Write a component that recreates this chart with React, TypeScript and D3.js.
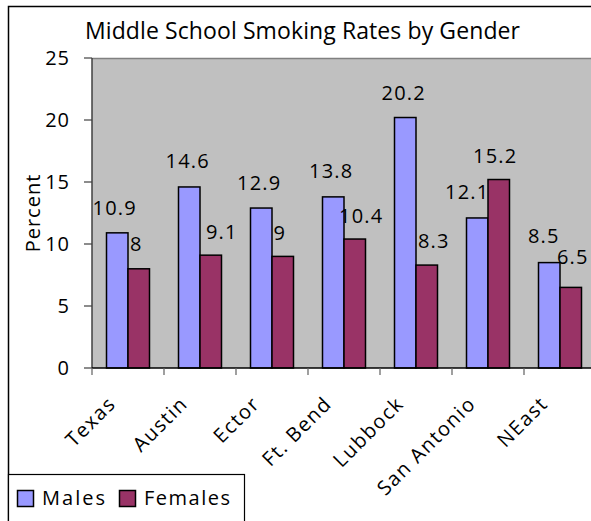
import React from "react";
import * as d3 from "d3";

const categories = ["Texas", "Austin", "Ector", "Ft. Bend", "Lubbock", "San Antonio", "NEast"];
const males = [10.9, 14.6, 12.9, 13.8, 20.2, 12.1, 8.5];
const females = [8, 9.1, 9, 10.4, 8.3, 15.2, 6.5];
const yTicks = [0, 5, 10, 15, 20, 25];
const seriesNames = ["Males", "Females"];
const seriesColors = ["#9999FF", "#993366"];

// hand-placed data label nudges (px) so crowded labels stay readable
const maleLabelDx = [-2.5, -1.5, -2, -2, -1.5, -10, -5.5];
const femaleLabelDx = [-2.5, 11, -3, 6.5, 7, -3.5, 2];
const maleLabelDy = [0, -1, 0, -1, 0, -1, -1.5];
const femaleLabelDy = [0, 2, 1.5, 2, 1, 1, -5];

const W = 591;
const H = 521;
const FONT = "'Open Sans', sans-serif";

export default function App() {
  const plot = { left: 92, top: 58, bottom: 368 };
  const bandW = 72;
  const x = d3
    .scaleBand<string>()
    .domain(categories)
    .range([plot.left, plot.left + bandW * categories.length])
    .paddingInner(0)
    .paddingOuter(0);
  const y = d3.scaleLinear().domain([0, 25]).range([plot.bottom, plot.top]);
  const barW = 21.5;
  const plotRight = plot.left + bandW * categories.length;

  const series = [males, females];
  const dxs = [maleLabelDx, femaleLabelDx];
  const dys = [maleLabelDy, femaleLabelDy];
  const boundaries = d3.range(categories.length + 1).map((i) => plot.left + i * bandW);

  return (
    <svg
      width={W}
      height={H}
      style={{ position: "absolute", left: 0, top: 0, background: "#fff" }}
      fontFamily={FONT}
    >
      {/* chart frame */}
      <rect x={8.5} y={6.5} width={W + 20} height={H + 20} fill="#fff" stroke="#000" strokeWidth={1.5} />

      {/* title */}
      <text x={85} y={39} fontSize={23} fill="#000" textLength={435} lengthAdjust="spacing">
        Middle School Smoking Rates by Gender
      </text>

      {/* plot area */}
      <rect
        x={plot.left}
        y={plot.top}
        width={plotRight - plot.left}
        height={plot.bottom - plot.top}
        fill="#C0C0C0"
        stroke="none"
      />
      <line x1={plot.left} x2={plotRight} y1={plot.top + 0.5} y2={plot.top + 0.5} stroke="#808080" strokeWidth={1.5} />

      {/* bars, then labels on top in draw order per category */}
      {categories.map((c, i) => {
        const cx = (x(c) as number) + x.bandwidth() / 2;
        return series.map((vals, s) => {
          const bx = s === 0 ? cx - barW : cx;
          const top = y(vals[i]);
          return (
            <g key={`${c}-${s}`}>
              <rect
                x={bx}
                y={top}
                width={barW}
                height={plot.bottom - top}
                fill={seriesColors[s]}
                stroke="#000"
                strokeWidth={1.5}
              />
              <text
                x={bx + barW / 2 + dxs[s][i]}
                y={top - 18 + dys[s][i]}
                textAnchor="middle"
                fontSize={20}
                letterSpacing={1.2}
                fill="#000"
              >
                {String(vals[i])}
              </text>
            </g>
          );
        });
      })}

      {/* y axis */}
      <line x1={plot.left} x2={plot.left} y1={plot.top} y2={plot.bottom} stroke="#404040" strokeWidth={1.5} />
      {yTicks.map((t) => (
        <g key={t}>
          <line x1={84} x2={plot.left} y1={y(t)} y2={y(t)} stroke="#404040" strokeWidth={1.2} />
          <text x={70} y={y(t)} dy="0.36em" textAnchor="end" fontSize={20} letterSpacing={1} fill="#000">
            {t}
          </text>
        </g>
      ))}
      <text
        transform={`translate(40,${(plot.top + plot.bottom) / 2}) rotate(-90)`}
        textAnchor="middle"
        fontSize={20}
        letterSpacing={1}
        fill="#000"
      >
        Percent
      </text>

      {/* x axis */}
      <line x1={plot.left} x2={plotRight} y1={plot.bottom} y2={plot.bottom} stroke="#000" strokeWidth={1.5} />
      {boundaries.map((bx, i) => (
        <line key={i} x1={bx} x2={bx} y1={plot.bottom} y2={plot.bottom + 7} stroke="#606060" strokeWidth={1.2} />
      ))}
      {categories.map((c) => {
        const cx = (x(c) as number) + x.bandwidth() / 2;
        return (
          <text
            key={c}
            transform={`translate(${cx - 11},${plot.bottom + 37}) rotate(-45)`}
            textAnchor="end"
            fontSize={20}
            letterSpacing={1.5}
            fill="#000"
          >
            {c}
          </text>
        );
      })}

      {/* legend */}
      <rect x={8.5} y={474.5} width={236} height={60} fill="#fff" stroke="#000" strokeWidth={1.2} />
      {seriesNames.map((n, i) => {
        const lx = i === 0 ? 17 : 119;
        return (
          <g key={n}>
            <rect x={lx + 0.5} y={490.5} width={16} height={16} fill={seriesColors[i]} stroke="#000" strokeWidth={1.5} />
            <text
              x={lx + 25}
              y={505}
              fontSize={20}
              fill="#000"
              textLength={i === 0 ? 63 : 86}
              lengthAdjust="spacing"
            >
              {n}
            </text>
          </g>
        );
      })}
    </svg>
  );
}
